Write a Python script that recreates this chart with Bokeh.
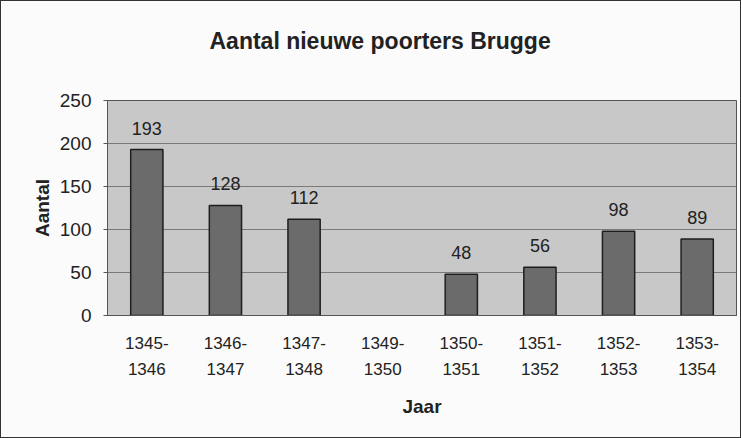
from bokeh.plotting import figure
from bokeh.models import ColumnDataSource, LabelSet, Range1d
from bokeh.core.properties import value
from bokeh.embed import file_html
from bokeh.resources import INLINE

periods = ["1345-\n1346", "1346-\n1347", "1347-\n1348", "1349-\n1350",
           "1350-\n1351", "1351-\n1352", "1352-\n1353", "1353-\n1354"]
counts = [193, 128, 112, None, 48, 56, 98, 89]
y_ticks = [0, 50, 100, 150, 200, 250]
title_text = "Aantal nieuwe poorters Brugge"

xs = [p_ for p_, c in zip(periods, counts) if c is not None]
ys = [c for c in counts if c is not None]
src = ColumnDataSource(dict(x=xs, y=ys, lab=[str(v) for v in ys]))

FONT = "Liberation Sans"

p = figure(x_range=periods, y_range=Range1d(0, 250), width=741, height=438,
           output_backend="svg", toolbar_location=None, title=title_text + "\n ",
           min_border_left=106, min_border_right=6, min_border_top=99, min_border_bottom=124)
p.styles = {"border": "1.5px solid #333"}

p.title.align = "left"
p.title.offset = 102
p.title.text_font = FONT
p.title.text_font_size = "23px"
p.title.text_font_style = "bold"
p.title.text_color = "#222222"
p.title.text_line_height = 1.6

p.background_fill_color = "#c8c8c8"
p.border_fill_color = "#fbfbfb"
p.outline_line_color = "#555555"
p.outline_line_width = 1

p.vbar(x="x", top="y", width=0.41, source=src, fill_color="#6b6b6b",
       line_color="#1e1e1e", line_width=1.5)

labels = LabelSet(x="x", y="y", text="lab", source=src, text_align="center",
                  text_baseline="alphabetic", y_offset=15, text_font=value(FONT),
                  text_font_size=value("18px"), text_color="#222222")
p.add_layout(labels)

p.yaxis.ticker = y_ticks
p.ygrid.grid_line_color = "#7a7a7a"
p.ygrid.grid_line_width = 1
p.xgrid.grid_line_color = None

for ax in (p.xaxis, p.yaxis):
    ax.major_label_text_font = FONT
    ax.major_label_text_font_size = "17px"
    ax.major_label_text_color = "#222222"
    ax.axis_label_text_font = FONT
    ax.axis_label_text_font_size = "19px"
    ax.axis_label_text_font_style = "bold"
    ax.axis_label_text_color = "#222222"
    ax.axis_line_color = "#555555"
    ax.minor_tick_line_color = None

p.yaxis.axis_label = "Aantal"
p.yaxis.major_label_text_font_size = "19px"
p.yaxis.major_tick_out = 4
p.yaxis.major_tick_in = 0
p.yaxis.major_tick_line_color = "#555555"
p.yaxis.major_label_standoff = 12
p.yaxis.axis_label_standoff = 4

p.xaxis.axis_label = "Jaar"
p.xaxis.major_tick_line_color = None
p.xaxis.major_label_standoff = 12
p.xaxis.major_label_text_line_height = 1.4
p.xaxis.axis_label_standoff = 14

open("out.html", "w").write(file_html(p, INLINE))
